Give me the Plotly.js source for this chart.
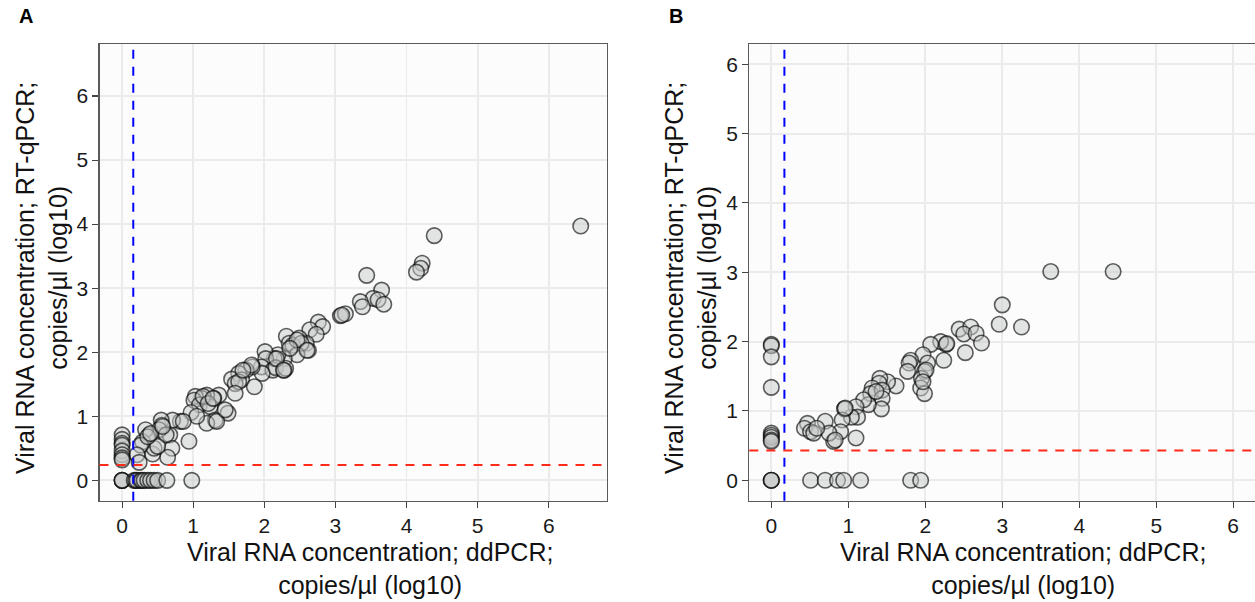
<!DOCTYPE html>
<html>
<head>
<meta charset="utf-8">
<script src="https://cdn.plot.ly/plotly-3.0.1.min.js"></script>
<style>html,body{margin:0;padding:0;background:#fff;}#chart{width:1255px;height:602px;}</style>
</head>
<body>
<div id="chart"></div>
<script>
// Panel A data (ddPCR log10 vs RT-qPCR log10)
const ax = [6.45,4.39,4.22,4.20,4.14,3.44,3.65,3.53,3.60,3.68,3.35,3.38,3.07,3.14,2.76,2.82,2.64,2.73,2.59,2.62,
  2.31,2.35,2.40,2.49,2.52,2.46,2.28,2.19,2.14,2.01,2.02,1.96,2.12,2.16,2.28,1.97,1.83,1.74,1.64,1.68,
  1.54,1.59,1.64,1.86,1.59,1.49,1.36,1.29,1.19,1.12,1.03,1.01,1.09,1.24,1.31,1.19,0.97,1.05,0.94,0.82,
  0.71,0.67,0.70,0.64,0.55,0.56,0.52,0.62,0.43,0.45,0.38,0.33,0.29,0.26,0.21,0.24,0.50,0.36,0.40,0.57,
  0.86,1.14,1.33,1.21,2.30,2.46,2.36,2.60,2.17,2.27,1.82,1.70,1.45,1.28,3.09,
  0,0,0,0,0,0,0,0,
  0,0,0,0.17,0.19,0.21,0.26,0.28,0.31,0.36,0.40,0.45,0.50,0.63,0.98];
const ay = [3.97,3.82,3.39,3.31,3.25,3.20,2.97,2.84,2.82,2.75,2.79,2.71,2.57,2.60,2.47,2.40,2.35,2.28,2.14,2.03,
  2.25,2.14,2.11,2.22,2.14,1.96,1.90,1.96,1.90,2.01,1.90,1.77,1.72,1.76,1.72,1.67,1.77,1.72,1.67,1.57,
  1.58,1.51,1.54,1.46,1.36,1.05,1.33,1.28,1.33,1.28,1.31,1.25,1.18,1.15,0.94,0.89,1.06,1.00,0.61,0.92,
  0.94,0.71,0.50,0.36,0.94,0.86,0.79,0.71,0.41,0.50,0.71,0.79,0.60,0.55,0.40,0.28,0.53,0.68,0.73,0.84,
  0.92,1.31,0.92,1.20,1.75,2.19,2.06,2.03,1.90,1.72,1.80,1.72,1.10,1.28,2.58,
  0.71,0.64,0.58,0.55,0.46,0.40,0.35,0.32,
  0,0,0,0,0,0,0,0,0,0,0,0,0,0,0];

// Panel B data
const bx = [3.63,4.44,3.00,2.96,3.25,2.44,2.59,2.50,2.66,2.73,2.52,2.27,2.20,2.07,2.24,1.97,2.03,1.99,1.95,1.94,
  1.99,1.81,1.79,1.77,1.62,1.51,1.41,1.40,1.31,1.29,1.44,1.44,1.43,1.26,1.20,1.10,1.12,1.04,0.95,0.92,
  0.90,0.81,1.10,0.70,0.75,0.47,0.43,0.51,0.55,0.59,2.28,2.01,1.97,1.36,0.96,0.83,
  0,0,0,0,0,0,0,0,0,
  0,0,0,0.51,0.70,0.86,0.94,1.16,1.81,1.94];
const by = [3.01,3.01,2.53,2.25,2.21,2.18,2.21,2.11,2.12,1.98,1.84,1.96,2.00,1.96,1.73,1.81,1.69,1.57,1.47,1.33,
  1.25,1.73,1.69,1.57,1.36,1.42,1.47,1.40,1.33,1.25,1.30,1.18,1.03,1.09,1.16,1.06,0.91,0.91,1.03,0.87,
  0.70,0.56,0.61,0.85,0.68,0.82,0.75,0.70,0.68,0.75,1.97,1.59,1.42,1.28,1.04,0.58,
  1.96,1.94,1.78,1.34,0.68,0.65,0.62,0.58,0.56,
  0,0,0,0,0,0,0,0,0,0];

// Threshold lines
const limA = {x: 0.157, y: 0.24};
const limB = {x: 0.17, y: 0.43};

const tickVals = [0,1,2,3,4,5,6];
const tickText = ['0','1','2','3','4','5','6'];
const xTitle = 'Viral RNA concentration; ddPCR;<br>copies/µl (log10)';
const yTitle = 'Viral RNA concentration; RT-qPCR;<br>copies/µl (log10)';

const FONT = 'Liberation Sans, Arial, Helvetica, sans-serif';
const W = 1255, H = 602;
const px = v => v / W;
const py = v => 1 - v / H;

const marker = {
  size: 15.5,
  color: 'rgba(200,202,202,0.5)',
  line: {color: 'rgba(0,0,0,0.62)', width: 1.6}
};

const traces = [
  {x: ax, y: ay, xaxis: 'x', yaxis: 'y', type: 'scatter', mode: 'markers', marker: marker, hoverinfo: 'x+y'},
  {x: bx, y: by, xaxis: 'x2', yaxis: 'y2', type: 'scatter', mode: 'markers', marker: marker, hoverinfo: 'x+y'}
];

function axisBase(extra) {
  return Object.assign({
    tickmode: 'array', tickvals: tickVals, ticktext: tickText,
    showgrid: true, gridcolor: '#EBEBEB', gridwidth: 1.9,
    zeroline: false, showline: true, linecolor: '#5a5a5a', linewidth: 1.1,
    ticks: 'outside', ticklen: 6, tickwidth: 1.1, tickcolor: '#444',
    tickfont: {family: FONT, size: 21, color: '#1a1a1a'}
  }, extra);
}

const yDom = [(H - 500.7) / H, (H - 44) / H];

const layout = {
  width: W, height: H,
  margin: {l: 0, r: 0, t: 0, b: 0, pad: 0},
  paper_bgcolor: '#FFFFFF',
  plot_bgcolor: '#FCFCFC',
  showlegend: false,
  xaxis: axisBase({domain: [px(99.5), px(606.6)], range: [-0.318, 6.814], anchor: 'y', mirror: true}),
  yaxis: axisBase({domain: yDom, range: [-0.318, 6.812], anchor: 'x', mirror: true}),
  xaxis2: axisBase({domain: [px(749.3), 1], range: [-0.286, 6.283], anchor: 'y2', mirror: true}),
  yaxis2: axisBase({domain: yDom, range: [-0.295, 6.292], anchor: 'x2', mirror: false}),
  shapes: [
    {type: 'line', xref: 'x', yref: 'y domain', x0: limA.x, x1: limA.x, y0: 0, y1: 1,
     line: {color: '#0000FF', width: 2, dash: '9px,8px'}},
    {type: 'line', xref: 'x domain', yref: 'y', x0: 0, x1: 1, y0: limA.y, y1: limA.y,
     line: {color: '#FF2A1A', width: 2, dash: '9px,8px'}},
    {type: 'line', xref: 'x2', yref: 'y2 domain', x0: limB.x, x1: limB.x, y0: 0, y1: 1,
     line: {color: '#0000FF', width: 2, dash: '9px,8px'}},
    {type: 'line', xref: 'x2 domain', yref: 'y2', x0: 0, x1: 1, y0: limB.y, y1: limB.y,
     line: {color: '#FF2A1A', width: 2, dash: '9px,8px'}}
  ],
  annotations: [
    {text: '<b>A</b>', xref: 'paper', yref: 'paper', x: px(25.5), y: py(16.5), xanchor: 'center', yanchor: 'middle',
     showarrow: false, font: {family: FONT, size: 20, color: '#000'}},
    {text: '<b>B</b>', xref: 'paper', yref: 'paper', x: px(675.5), y: py(16.5), xanchor: 'center', yanchor: 'middle',
     showarrow: false, font: {family: FONT, size: 20, color: '#000'}},
    {text: xTitle, xref: 'paper', yref: 'paper', x: px(370), y: py(568), xanchor: 'center', yanchor: 'middle',
     showarrow: false, font: {family: FONT, size: 25, color: '#111'}},
    {text: xTitle, xref: 'paper', yref: 'paper', x: px(1023), y: py(568), xanchor: 'center', yanchor: 'middle',
     showarrow: false, font: {family: FONT, size: 25, color: '#111'}},
    {text: yTitle, xref: 'paper', yref: 'paper', x: px(41), y: py(278), xanchor: 'center', yanchor: 'middle',
     textangle: -90, showarrow: false, font: {family: FONT, size: 25, color: '#111'}},
    {text: yTitle, xref: 'paper', yref: 'paper', x: px(690), y: py(278), xanchor: 'center', yanchor: 'middle',
     textangle: -90, showarrow: false, font: {family: FONT, size: 25, color: '#111'}}
  ]
};

Plotly.newPlot('chart', traces, layout, {staticPlot: true, displayModeBar: false});
</script>
</body>
</html>
